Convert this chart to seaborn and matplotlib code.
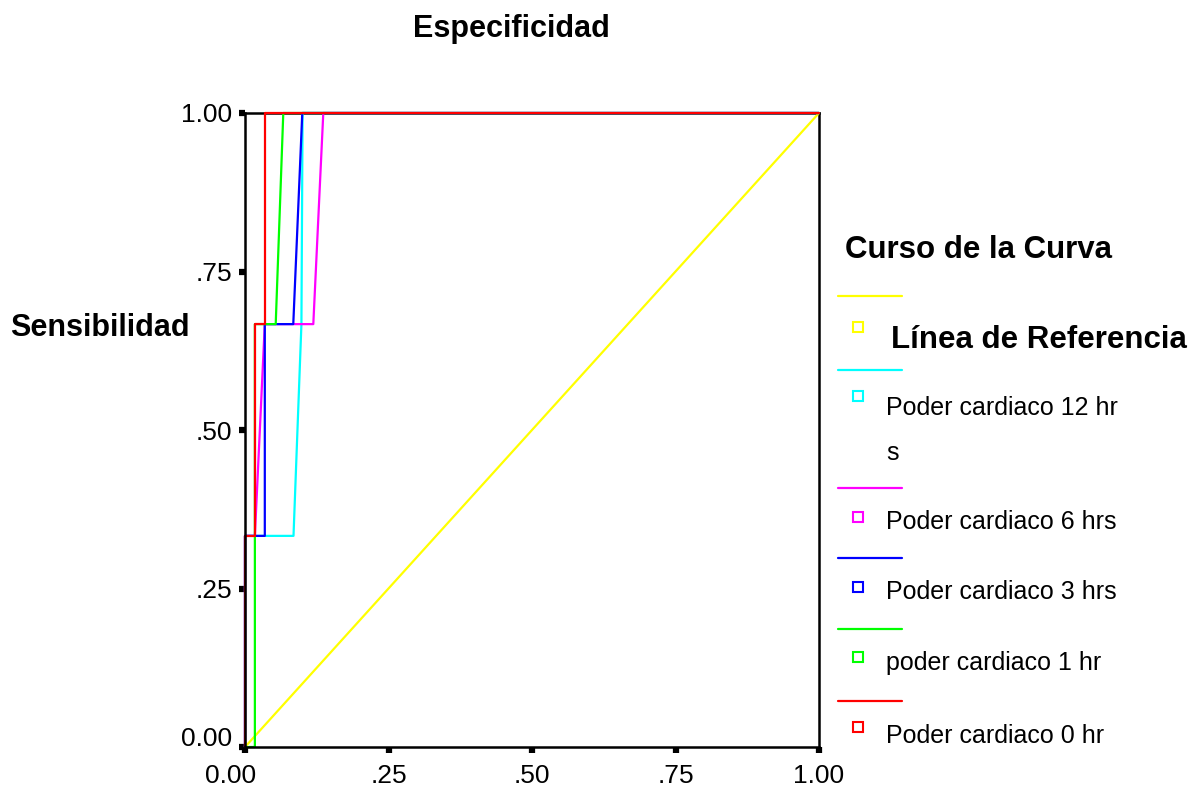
import numpy as np
import pandas as pd
import matplotlib
matplotlib.use("Agg")
import matplotlib.pyplot as plt
from matplotlib.lines import Line2D
from matplotlib.transforms import ScaledTranslation
import seaborn as sns

# ---------------- data ----------------
series_names = ["Línea de Referencia", "Poder cardiaco 12 hrs", "Poder cardiaco 6 hrs",
                "Poder cardiaco 3 hrs", "poder cardiaco 1 hr", "Poder cardiaco 0 hr"]
series_colors = ["#ffff00", "#00ffff", "#ff00ff", "#0000ff", "#00ff00", "#ff0000"]

ref_x = [0.0, 1.0]
ref_y = [0.0, 1.0]
h12_x = [0.0, 0.0, 0.0845, 0.0983, 0.1003, 1.0]
h12_y = [0.0, 0.333, 0.333, 0.667, 1.0, 1.0]
h6_x = [0.0, 0.0, 0.0172, 0.0345, 0.119, 0.1364, 1.0]
h6_y = [0.0, 0.333, 0.333, 0.667, 0.667, 1.0, 1.0]
h3_x = [0.0, 0.0, 0.0345, 0.0345, 0.0841, 0.0998, 1.0]
h3_y = [0.0, 0.333, 0.333, 0.667, 0.667, 1.0, 1.0]
h1_x = [0.0, 0.0172, 0.0172, 0.0535, 0.0667, 1.0]
h1_y = [0.0, 0.0, 0.667, 0.667, 1.0, 1.0]
h0_x = [0.0, 0.0, 0.0172, 0.0172, 0.0345, 0.0345, 1.0]
h0_y = [0.0, 0.333, 0.333, 0.667, 0.667, 1.0, 1.0]

tick_values = [0.0, 0.25, 0.5, 0.75, 1.0]
tick_labels = ["0.00", ".25", ".50", ".75", "1.00"]

legend_labels = ["Línea de Referencia", "Poder cardiaco 12 hr\ns", "Poder cardiaco 6 hrs",
                 "Poder cardiaco 3 hrs", "poder cardiaco 1 hr", "Poder cardiaco 0 hr"]

xs = [ref_x, h12_x, h6_x, h3_x, h1_x, h0_x]
ys = [ref_y, h12_y, h6_y, h3_y, h1_y, h0_y]
rows = []
for name, x, y in zip(series_names, xs, ys):
    for i, (a, b) in enumerate(zip(x, y)):
        rows.append({"curve": name, "order": i, "fpr": a, "tpr": b})
df = pd.DataFrame(rows)

# ---------------- style ----------------
sns.set_style("white")
plt.rcParams["font.family"] = ["Liberation Sans", "DejaVu Sans"]
plt.rcParams["text.color"] = "black"
plt.rcParams["axes.labelcolor"] = "black"
plt.rcParams["xtick.color"] = "black"
plt.rcParams["ytick.color"] = "black"

W, H = 1196, 793
fig = plt.figure(figsize=(W / 100, H / 100), dpi=100)
ax = fig.add_axes([245 / W, 1 - 747 / H, (819 - 245) / W, (747 - 113) / H])

sns.lineplot(data=df, x="fpr", y="tpr", hue="curve", hue_order=series_names,
             palette=dict(zip(series_names, series_colors)), sort=False,
             estimator=None, units="curve", legend=False, linewidth=1.6, ax=ax)
for ln in ax.lines:
    ln.set_clip_on(False)
    ln.set_zorder(3)

ax.set_xlim(0, 1)
ax.set_ylim(0, 1)
ax.set_xlabel("")
ax.set_ylabel("")
for side, sp in ax.spines.items():
    sp.set_visible(True)
    sp.set_color("black")
    sp.set_linewidth(1.8)
ax.spines["left"].set_zorder(4)
ax.spines["bottom"].set_zorder(4)
ax.spines["top"].set_zorder(2)
ax.spines["right"].set_zorder(2)

ax.set_xticks(tick_values)
ax.set_xticklabels(tick_labels)
ax.set_yticks(tick_values)
ax.set_yticklabels(tick_labels)
ax.tick_params(axis="both", direction="out", length=4.5, width=4.5, color="black",
               labelsize=19, labelcolor="black")
ax.tick_params(axis="y", pad=5, left=True)
ax.tick_params(axis="x", pad=8, bottom=True)

# shift the 0.00 labels as in the original
xl0 = ax.get_xticklabels()[0]
xl0.set_transform(xl0.get_transform() + ScaledTranslation(-0.14, 0, fig.dpi_scale_trans))
yl0 = ax.get_yticklabels()[0]
yl0.set_transform(yl0.get_transform() + ScaledTranslation(0, 0.10, fig.dpi_scale_trans))

# axis titles
fig.text(511 / W, 1 - 29 / H, "Especificidad", ha="center", va="center",
         fontsize=22, fontweight="bold", color="black")
fig.text(10 / W, 1 - 328 / H, "Sensibilidad", ha="left", va="center",
         fontsize=22, fontweight="bold", color="black")

# ---------------- legend (manual, SPSS style) ----------------
def fy(py):
    return 1 - py / H

fig.text(845 / W, fy(250), "Curso de la Curva", ha="left", va="center",
         fontsize=22.5, fontweight="bold", color="black")

line_ys = [296, 370, 488, 558, 629, 701]
sq_ys = [327, 396, 517, 587, 657, 727]
lab_ys = [340, 408, 522, 592, 663, 736]
for i, (lab, col) in enumerate(zip(legend_labels, series_colors)):
    fig.add_artist(Line2D([838 / W, 902 / W], [fy(line_ys[i])] * 2, color=col,
                          linewidth=1.6, transform=fig.transFigure))
    fig.add_artist(Line2D([858 / W], [fy(sq_ys[i])], marker="s", markersize=6.5,
                          markerfacecolor="none", markeredgecolor=col,
                          markeredgewidth=1.5, linestyle="none",
                          transform=fig.transFigure))
    if i == 0:
        fig.text(891 / W, fy(lab_ys[i]), lab, ha="left", va="center",
                 fontsize=22.5, fontweight="bold", color="black")
    else:
        for k, part in enumerate(lab.split("\n")):
            fig.text(886 / W, fy(lab_ys[i] + 45 * k), part, ha="left", va="center",
                     fontsize=18, color="black")

fig.savefig("out.png", dpi=100, facecolor="white")
